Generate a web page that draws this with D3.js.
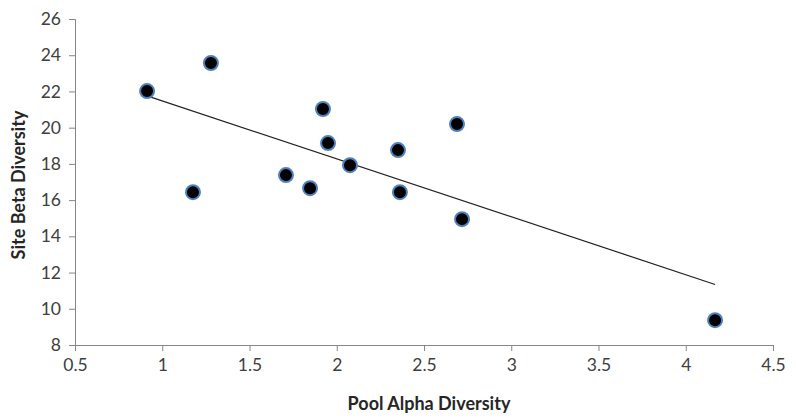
<!DOCTYPE html>
<html><head><meta charset="utf-8">
<script src="https://cdn.jsdelivr.net/npm/d3@7"></script>
<style>body{margin:0;background:#fff}svg{display:block}</style>
</head><body>
<script>
const alphaDiversity = [0.913, 1.279, 1.176, 1.709, 1.847, 1.921, 1.950, 2.076, 2.351, 2.362, 2.689, 2.718, 4.168];
const betaDiversity  = [22.02, 23.57, 16.44, 17.38, 16.66, 21.03, 19.15, 17.93, 18.76, 16.44, 20.20, 14.95, 9.37];
const xTicks = [0.5, 1, 1.5, 2, 2.5, 3, 3.5, 4, 4.5];
const yTicks = [8, 10, 12, 14, 16, 18, 20, 22, 24, 26];
const xTitle = "Pool Alpha Diversity";
const yTitle = "Site Beta Diversity";

const W = 796, H = 418;
const m = {left: 75, right: 23, top: 19, bottom: 73};
const font = "Lato, 'Open Sans', sans-serif";
const svg = d3.select("body").append("svg").attr("width", W).attr("height", H);

const x = d3.scaleLinear().domain([0.5, 4.5]).range([m.left, W - m.right]);
const y = d3.scaleLinear().domain([8, 26]).range([H - m.bottom, m.top]);

const xAxis = svg.append("g").attr("transform", `translate(0,${y(8)})`)
  .call(d3.axisBottom(x).tickValues(xTicks).tickSize(6).tickPadding(8).tickFormat(d3.format("")));
const yAxis = svg.append("g").attr("transform", `translate(${x(0.5)},0)`)
  .call(d3.axisLeft(y).tickValues(yTicks).tickSize(6).tickPadding(8));
[xAxis, yAxis].forEach(g => {
  g.select(".domain").attr("stroke", "#868686");
  g.selectAll(".tick line").attr("stroke", "#868686");
  g.selectAll("text").attr("fill", "#404040").style("font-family", font).style("font-size", "17.5px");
});

// trend line (least squares)
const n = alphaDiversity.length;
const mx = d3.mean(alphaDiversity), my = d3.mean(betaDiversity);
let sxy = 0, sxx = 0;
for (let i = 0; i < n; i++) { sxy += (alphaDiversity[i]-mx)*(betaDiversity[i]-my); sxx += (alphaDiversity[i]-mx)**2; }
const slope = sxy / sxx, icpt = my - slope*mx;
const x0 = d3.min(alphaDiversity), x1 = d3.max(alphaDiversity);
svg.append("line")
  .attr("x1", x(x0)).attr("y1", y(icpt + slope*x0))
  .attr("x2", x(x1)).attr("y2", y(icpt + slope*x1))
  .attr("stroke", "#222").attr("stroke-width", 1.2);

svg.append("g").selectAll("circle").data(alphaDiversity.map((a, i) => [a, betaDiversity[i]]))
  .join("circle")
  .attr("cx", d => x(d[0])).attr("cy", d => y(d[1])).attr("r", 7)
  .attr("fill", "#000").attr("stroke", "#4f81bd").attr("stroke-width", 2);

svg.append("text").attr("x", 429).attr("y", 410)
  .attr("text-anchor", "middle").attr("font-weight", "bold").attr("fill", "#262626")
  .style("font-family", font).style("font-size", "18px").text(xTitle);
svg.append("text").attr("transform", `translate(25,185) rotate(-90)`)
  .attr("text-anchor", "middle").attr("font-weight", "bold").attr("fill", "#262626")
  .style("font-family", font).style("font-size", "18px").text(yTitle);
</script>
</body></html>
